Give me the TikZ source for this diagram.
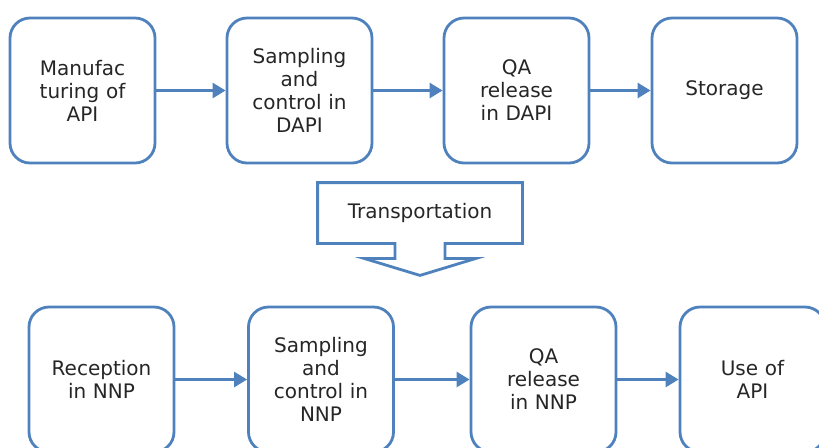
\documentclass[tikz,border=0pt]{standalone}
\usepackage{fontspec}
\setmainfont{DejaVu Sans}
\usetikzlibrary{arrows.meta}
\definecolor{boxblue}{HTML}{4F81BD}
\definecolor{txtgray}{HTML}{262626}

\tikzset{
  stage/.style={draw=boxblue, line width=1.4pt, rounded corners=10pt, fill=white,
    minimum width=72.5pt, minimum height=72.5pt, inner sep=0pt, text width=62pt,
    align=center, text=txtgray, font=\fontsize{10}{11.5}\selectfont},
  flow/.style={draw=boxblue, line width=1.3pt, -{Triangle[length=6.5pt,width=7.5pt]}},
  callout/.style={draw=boxblue, line width=1.4pt, line join=miter}
}

\begin{document}
\begin{tikzpicture}[x=0.5pt, y=-0.5pt]
    \useasboundingbox (0,0) rectangle (819,447);

    % Upper chain (DAPI)
    \node[stage] (Manuf) at (82.5,90.5) {Manufac\\turing of\\API};
    \node[stage] (SampD) at (299.5,90.5) {Sampling\\and\\control in\\DAPI};
    \node[stage] (QAD) at (516.5,90.5) {QA\\release\\in DAPI};
    \node[stage] (Stor) at (724.5,90.5) {Storage};

    \draw[flow] (Manuf) -- (SampD);
    \draw[flow] (SampD) -- (QAD);
    \draw[flow] (QAD) -- (Stor);

    % Transportation callout
    \node[minimum width=102pt, minimum height=30pt, inner sep=0pt, text=txtgray,
      font=\fontsize{10}{11.5}\selectfont] (Transp) at (420,213) {Transportation};
    \draw[callout] ([xshift=12.5pt]Transp.south) -- (Transp.south east) -- (Transp.north east)
      -- (Transp.north west) -- (Transp.south west) -- ([xshift=-12.5pt]Transp.south)
      -- ([xshift=-12.5pt,yshift=-7.5pt]Transp.south) -- ([xshift=-28pt,yshift=-7.5pt]Transp.south)
      -- ([yshift=-16pt]Transp.south) -- ([xshift=28pt,yshift=-7.5pt]Transp.south)
      -- ([xshift=12.5pt,yshift=-7.5pt]Transp.south) -- cycle;

    % Lower chain (NNP)
    \node[stage] (Recep) at (101.5,379.5) {Reception\\in NNP};
    \node[stage] (SampN) at (321,379.5) {Sampling\\and\\control in\\NNP};
    \node[stage] (QAN) at (543.5,379.5) {QA\\release\\in NNP};
    \node[stage] (UseA) at (752.5,379.5) {Use of\\API};

    \draw[flow] (Recep) -- (SampN);
    \draw[flow] (SampN) -- (QAN);
    \draw[flow] (QAN) -- (UseA);
\end{tikzpicture}
\end{document}
